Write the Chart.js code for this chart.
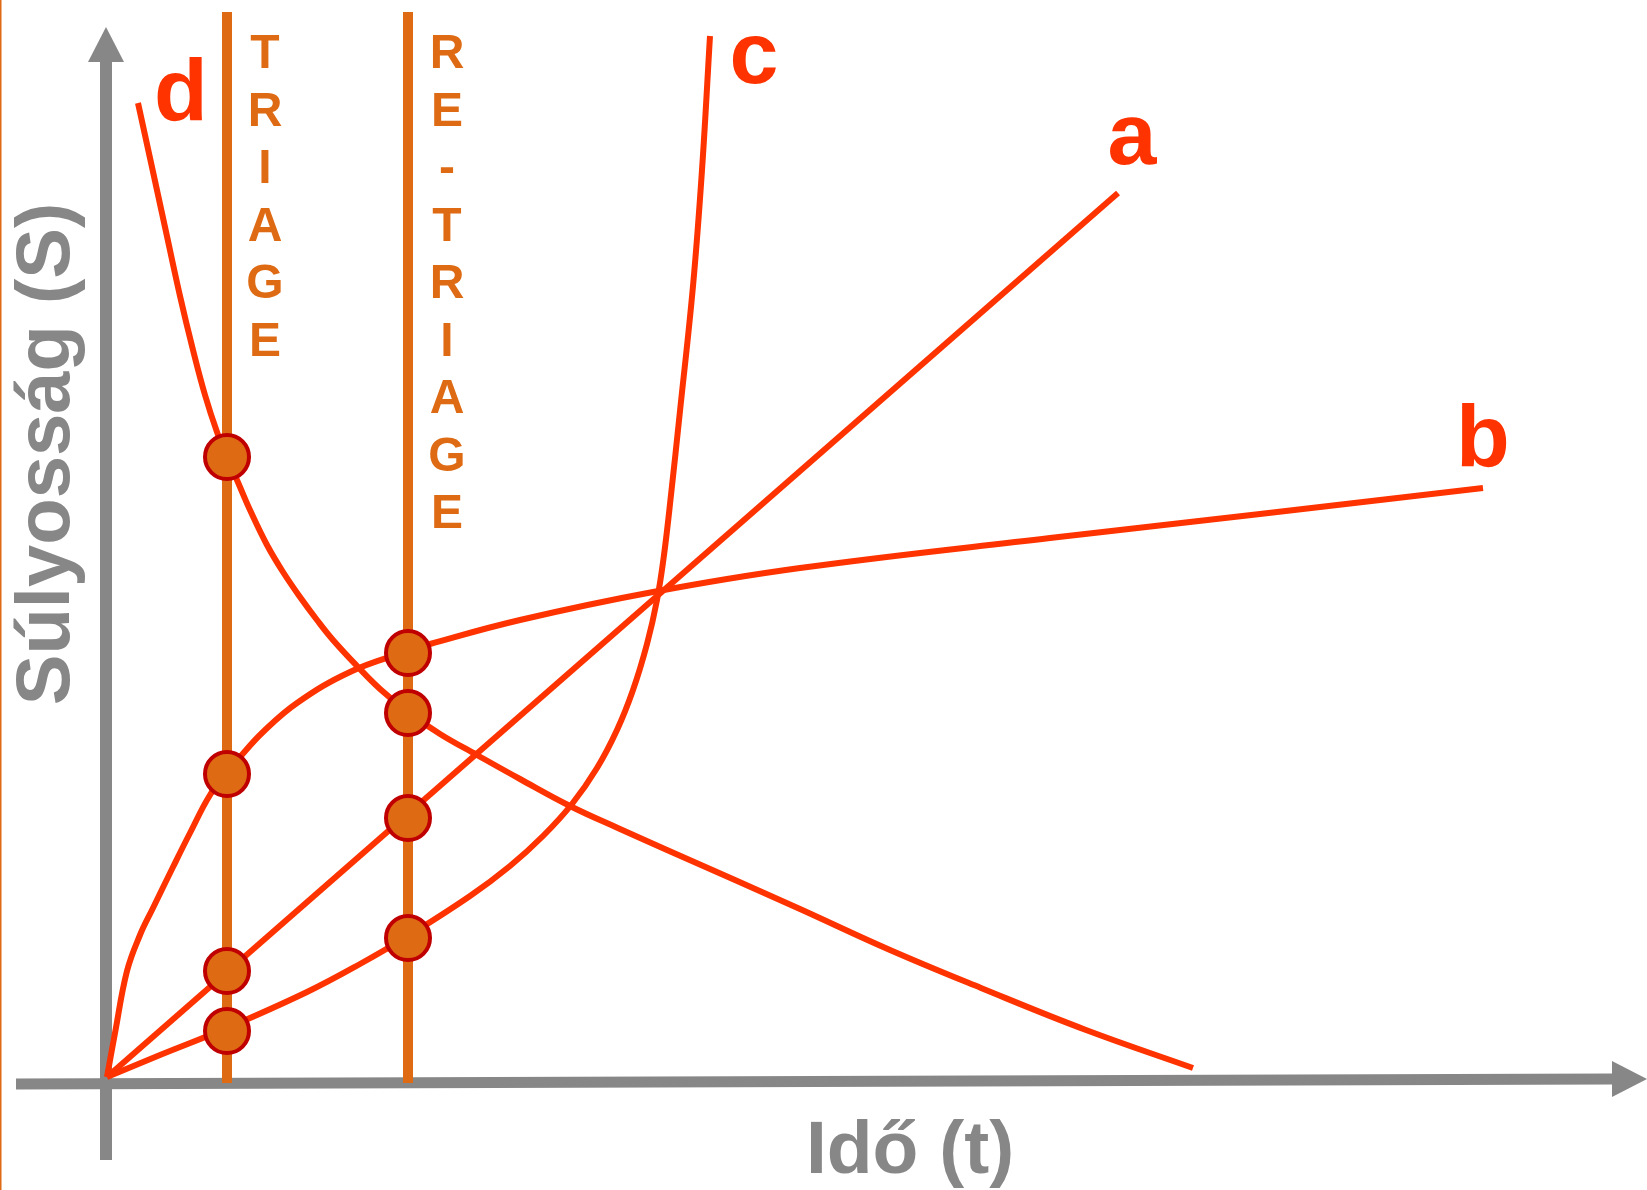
<!DOCTYPE html>
<html>
<head>
<meta charset="utf-8">
<title>Triage – súlyosság és idő</title>
<script src="https://cdn.jsdelivr.net/npm/chart.js@4.4.1/dist/chart.umd.min.js"></script>
<style>
    html, body { margin: 0; padding: 0; background: #fff; }
    #wrap { width: 1647px; height: 1190px; position: relative; }
</style>
</head>
<body>
<div id="wrap"><canvas id="chart"></canvas></div>
<script>
// x = idő, y = súlyosság; (0, 0) is where the curves start
const curveNames = ['a', 'b', 'c', 'd'];
const curveA = [[0, 0], [101.1, 88.4]];
const curveB = [
    [0, 0], [0.8, 4.4], [2.0, 10.6], [3.3, 14.2], [4.6, 16.9], [6.6, 21.0], [8.3, 24.4],
    [10.3, 28.2], [12.0, 30.4], [13.3, 32.0], [15.6, 34.5], [19.0, 37.4], [24.3, 40.5],
    [30.1, 42.6], [32.3, 43.3], [41.3, 45.7], [54.6, 48.5], [69.3, 50.9], [94.3, 53.9],
    [115.3, 56.3], [137.6, 58.9]
];
const curveC = [
    [0, 0], [5.3, 2.2], [12.0, 4.9], [20.0, 8.5], [25.3, 11.3], [30.1, 14.1], [36.3, 18.1],
    [40.3, 21.1], [43.6, 24.1], [46.5, 27.3], [49.0, 30.9], [51.0, 34.7], [52.6, 38.7],
    [54.0, 43.3], [55.0, 47.7], [55.7, 52.2], [56.4, 58.2], [57.3, 66.6], [58.6, 79.1],
    [59.5, 90.7], [60.3, 104.1]
];
const curveD = [
    [3.1, 97.4], [4.3, 91.9], [5.8, 85.0], [7.3, 78.1], [8.6, 72.7], [9.8, 68.2], [11.0, 64.5],
    [12.0, 62.0], [13.3, 59.0], [14.3, 56.7], [16.0, 53.2], [17.6, 50.5], [19.3, 48.0],
    [21.0, 45.7], [22.6, 43.7], [25.0, 41.1], [27.3, 38.8], [30.1, 36.5], [33.3, 34.3],
    [37.0, 32.2], [41.3, 29.8], [46.3, 27.1], [51.3, 24.8], [56.0, 22.7], [62.8, 19.7],
    [69.3, 16.8], [78.3, 12.7], [87.4, 8.9], [97.9, 4.7], [108.6, 0.9]
];

// the two decision moments and where the curves are at them
const triageTime = 12.0;
const retriageTime = 30.1;
const triageValues = [62.0, 30.3, 10.6, 4.6];
const retriageValues = [42.4, 36.4, 25.9, 13.9];
const markerTop = 106.5;
const markerBottom = -0.6;

const triageText = 'TRIAGE';
const retriageText = 'RE-TRIAGE';
const xTitle = 'Idő (t)';
const yTitle = 'Súlyosság (S)';

const RED = '#FF3300';
const ORANGE = '#DE6B14';
const DARKRED = '#C00000';
const GREY = '#878787';
const FONT = '"Liberation Sans", Arial, Helvetica, sans-serif';

const toPoints = arr => arr.map(p => ({ x: p[0], y: p[1] }));

// where the letters go (x centre, baseline), in the same units as the data
const labelSpots = { a: [102.5, 91.3], b: [137.6, 61.1], c: [64.7, 99.4], d: [7.4, 95.7] };

const sketchPlugin = {
    id: 'sketch',
    beforeDatasetsDraw(chart) {
        const ctx = chart.ctx;
        const px = v => chart.scales.x.getPixelForValue(v);
        const py = v => chart.scales.y.getPixelForValue(v);
        ctx.save();
        // thin orange edge at the left
        ctx.fillStyle = ORANGE;
        ctx.fillRect(0, 0, 1.5, chart.height);

        // axes with arrow heads
        ctx.strokeStyle = GREY;
        ctx.fillStyle = GREY;
        ctx.lineCap = 'butt';
        ctx.lineWidth = 12;
        ctx.beginPath();
        ctx.moveTo(px(-0.1), py(-8.3));
        ctx.lineTo(px(-0.1), py(101.5));
        ctx.stroke();
        ctx.beginPath();
        ctx.moveTo(px(-1.9), py(101.5));
        ctx.lineTo(px(1.7), py(101.5));
        ctx.lineTo(px(-0.1), py(105.0));
        ctx.closePath();
        ctx.fill();

        ctx.lineWidth = 11;
        ctx.beginPath();
        ctx.moveTo(px(-9.1), py(-0.7));
        ctx.lineTo(px(150.5), py(-0.2));
        ctx.stroke();
        ctx.beginPath();
        ctx.moveTo(px(150.5), py(1.6));
        ctx.lineTo(px(150.5), py(-2.0));
        ctx.lineTo(px(154.0), py(-0.2));
        ctx.closePath();
        ctx.fill();
        ctx.restore();
    },
    afterDatasetsDraw(chart) {
        const ctx = chart.ctx;
        const px = v => chart.scales.x.getPixelForValue(v);
        const py = v => chart.scales.y.getPixelForValue(v);
        ctx.save();
        ctx.textAlign = 'center';
        ctx.textBaseline = 'alphabetic';

        // vertical words next to the marker lines
        ctx.fillStyle = ORANGE;
        ctx.font = 'bold 48px ' + FONT;
        triageText.split('').forEach((ch, i) => {
            ctx.fillText(ch, px(15.8), py(100.9 - i * 5.75));
        });
        retriageText.split('').forEach((ch, i) => {
            ctx.fillText(ch, px(34.0), py(100.9 - i * 5.75));
        });

        // curve letters
        ctx.fillStyle = RED;
        ctx.font = 'bold 88px ' + FONT;
        curveNames.forEach(n => {
            ctx.fillText(n, px(labelSpots[n][0]), py(labelSpots[n][1]));
        });

        // axis titles
        ctx.fillStyle = GREY;
        ctx.font = 'bold 75px ' + FONT;
        ctx.fillText(xTitle, px(80.3), py(-9.6));
        ctx.translate(px(-3.8), py(62.3));
        ctx.rotate(-Math.PI / 2);
        ctx.font = 'bold 76px ' + FONT;
        ctx.fillText(yTitle, 0, 0);
        ctx.restore();
    }
};

const curveStyle = {
    showLine: true,
    borderColor: RED,
    borderWidth: 6,
    borderCapStyle: 'butt',
    borderJoinStyle: 'round',
    pointRadius: 0,
    tension: 0.4,
    order: 1
};
const markerLineStyle = {
    showLine: true,
    borderColor: ORANGE,
    borderWidth: 10,
    borderCapStyle: 'butt',
    pointRadius: 0,
    order: 2
};

const markerPoints = triageValues.map(v => ({ x: triageTime, y: v }))
    .concat(retriageValues.map(v => ({ x: retriageTime, y: v })));

new Chart(document.getElementById('chart'), {
    type: 'scatter',
    data: {
        datasets: [
            {
                label: 'mérések',
                data: markerPoints,
                showLine: false,
                pointRadius: 22,
                pointBorderWidth: 4,
                pointBackgroundColor: ORANGE,
                pointBorderColor: DARKRED,
                order: 0
            },
            Object.assign({ label: curveNames[0], data: toPoints(curveA) }, curveStyle),
            Object.assign({ label: curveNames[1], data: toPoints(curveB) }, curveStyle),
            Object.assign({ label: curveNames[2], data: toPoints(curveC) }, curveStyle),
            Object.assign({ label: curveNames[3], data: toPoints(curveD) }, curveStyle),
            Object.assign({ label: triageText, data: [{ x: triageTime, y: markerBottom }, { x: triageTime, y: markerTop }] }, markerLineStyle),
            Object.assign({ label: retriageText, data: [{ x: retriageTime, y: markerBottom }, { x: retriageTime, y: markerTop }] }, markerLineStyle)
        ]
    },
    options: {
        responsive: true,
        maintainAspectRatio: false,
        animation: false,
        layout: { padding: 0, autoPadding: false },
        plugins: {
            legend: { display: false },
            tooltip: { enabled: false }
        },
        scales: {
            x: { type: 'linear', min: -10.7, max: 154.0, display: false },
            y: { type: 'linear', min: -11.3, max: 107.7, display: false }
        }
    },
    plugins: [sketchPlugin]
});
</script>
</body>
</html>
